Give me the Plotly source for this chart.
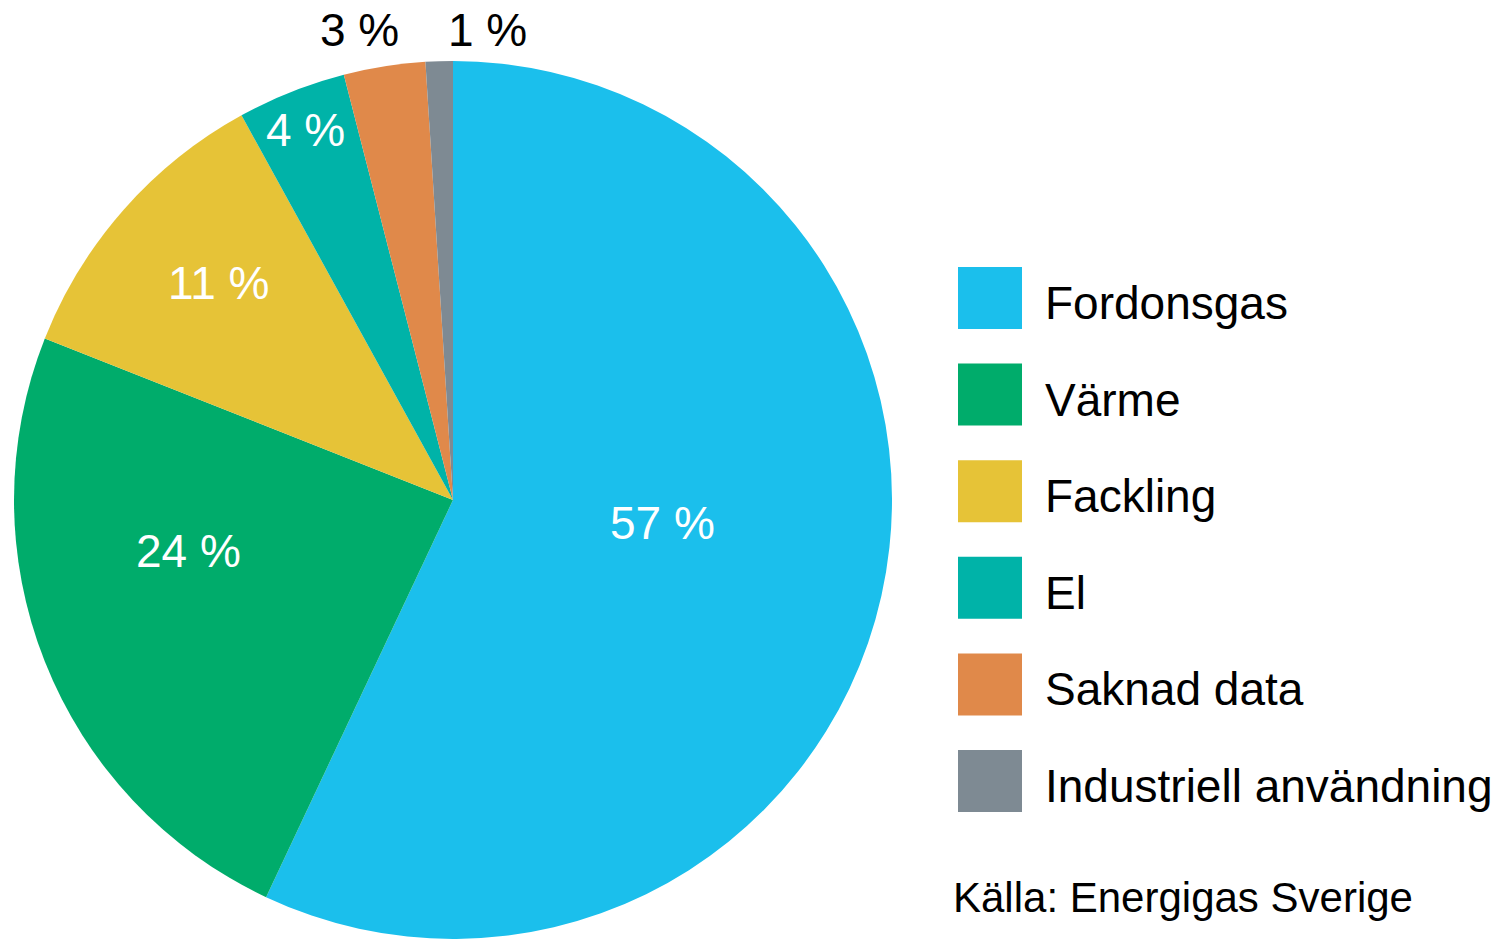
import plotly.graph_objects as go

labels = ['Fordonsgas', 'Värme', 'Fackling', 'El', 'Saknad data', 'Industriell användning']
values = [57, 24, 11, 4, 3, 1]
colors = ['#1BBFEC', '#00AC6B', '#E6C337', '#00B3A8', '#E0894A', '#7E8A93']
source = 'Källa: Energigas Sverige'

W, H = 1496, 939

# where the value labels sit (px from top-left) and their colour
label_pos = [(662, 523), (188, 551), (218, 283), (305, 130), (359, 30), (487, 30)]
label_col = ['white', 'white', 'white', 'white', 'black', 'black']

fig = go.Figure()

fig.add_trace(
    go.Pie(
        labels=labels,
        values=values,
        sort=False,
        direction='clockwise',
        rotation=0,
        marker=dict(colors=colors, line=dict(width=0)),
        textinfo='none',
        domain=dict(x=[13 / W, 893 / W], y=[0, 1 - 61 / H]),
        showlegend=False,
        hoverinfo='label+percent',
        automargin=False,
    ),
)

shapes = []
annotations = []

for v, (px, py), col in zip(values, label_pos, label_col):
    annotations.append(
        dict(
            x=px / W,
            y=1 - py / H,
            xref='paper',
            yref='paper',
            xanchor='center',
            yanchor='middle',
            text=f'{v} %',
            showarrow=False,
            font=dict(size=46, color=col),
        )
    )

# custom legend with big squares
y0 = 298
step = 96.6
for i, (lab, col) in enumerate(zip(labels, colors)):
    yc = y0 + i * step
    shapes.append(
        dict(
            type='rect',
            xref='paper',
            yref='paper',
            x0=958 / W,
            x1=1022 / W,
            y0=1 - (yc + 31) / H,
            y1=1 - (yc - 31) / H,
            fillcolor=col,
            line=dict(width=0),
        )
    )
    annotations.append(
        dict(
            x=1043 / W,
            y=1 - (yc + 5) / H,
            xref='paper',
            yref='paper',
            xanchor='left',
            yanchor='middle',
            text=lab,
            showarrow=False,
            font=dict(size=46, color='black'),
        )
    )

annotations.append(
    dict(
        x=951 / W,
        y=1 - 897 / H,
        xref='paper',
        yref='paper',
        xanchor='left',
        yanchor='middle',
        text=source,
        showarrow=False,
        font=dict(size=42, color='black'),
    )
)

fig.update_layout(
    width=W,
    height=H,
    margin=dict(l=0, r=0, t=0, b=0, autoexpand=False),
    paper_bgcolor='white',
    plot_bgcolor='white',
    font=dict(family='Liberation Sans'),
    shapes=shapes,
    annotations=annotations,
)

fig.write_html(
    'out.html',
    config={'displayModeBar': False},
    post_script="document.body.style.margin='0';",
)
